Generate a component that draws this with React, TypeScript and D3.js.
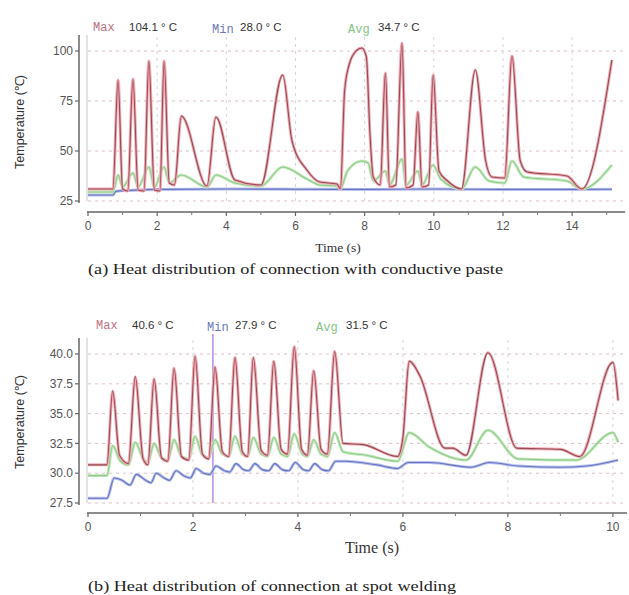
import React from 'react';
import * as d3 from 'd3';

type Pt = [number, number];

// (a) conductive paste — [time s, temperature °C]
const pasteMax: Pt[] = [
  [0, 31], [0.72, 31], [0.87, 85.5], [1.0, 31], [1.15, 30], [1.3, 86], [1.45, 30.5], [1.62, 30],
  [1.76, 95], [1.92, 30.5], [2.08, 30], [2.2, 95], [2.35, 34], [2.5, 33], [2.7, 67.5], [3.44, 32.5],
  [3.7, 67], [4.25, 35.5], [5.0, 33], [5.63, 88], [5.9, 55], [6.33, 40.5], [6.7, 34.5], [7.2, 33.5],
  [7.3, 31], [7.42, 80], [7.55, 93], [7.75, 100], [7.92, 101.5], [8.05, 97], [8.15, 60], [8.25, 37],
  [8.45, 33], [8.6, 89], [8.72, 32], [8.9, 33], [9.08, 104], [9.2, 31.5], [9.4, 33], [9.54, 69.5],
  [9.66, 32], [9.85, 33], [9.98, 88], [10.15, 40], [10.4, 35], [10.8, 31], [11.2, 90.5], [11.5, 45],
  [11.68, 37], [12.05, 36.5], [12.26, 97.5], [12.5, 45], [12.7, 39.5], [13.85, 37.5], [14.28, 31],
  [15.15, 95.5]
];
const pasteMin: Pt[] = [
  [0, 28], [0.72, 28], [0.8, 29.8], [1.2, 30.3], [2, 30.8], [4, 31], [6, 30.9], [8, 30.8],
  [10, 31], [12, 30.8], [14, 30.8], [15.15, 30.9]
];
const pasteAvg: Pt[] = [
  [0, 29.5], [0.72, 29.5], [0.87, 38], [1.0, 32], [1.3, 39], [1.45, 32], [1.76, 42], [1.92, 32],
  [2.2, 42], [2.35, 34], [2.7, 38], [3.44, 32], [3.7, 38], [4.25, 34], [5.0, 32.5], [5.63, 42],
  [6.33, 36], [6.7, 33], [7.2, 32.5], [7.3, 31], [7.5, 40], [7.92, 45], [8.1, 44], [8.25, 35],
  [8.6, 40], [8.72, 33], [9.08, 46], [9.2, 33], [9.54, 40], [9.66, 33], [9.98, 43], [10.2, 36],
  [10.8, 31], [11.2, 42], [11.6, 35], [12.05, 34], [12.26, 45], [12.6, 37], [13.85, 35],
  [14.28, 31], [15.15, 43]
];

// (b) spot welding
const weldMax: Pt[] = [
  [0, 30.7], [0.36, 30.7], [0.47, 36.9], [0.6, 31.5], [0.77, 30.8], [0.9, 38.1], [1.05, 31.2],
  [1.14, 30.7], [1.26, 37.9], [1.4, 31.3], [1.52, 31.0], [1.64, 38.8], [1.78, 31.4], [1.92, 31.1],
  [2.04, 39.8], [2.18, 31.6], [2.3, 31.2], [2.42, 38.9], [2.56, 31.8], [2.68, 31.4], [2.8, 39.7],
  [2.94, 31.8], [3.04, 31.4], [3.15, 39.7], [3.3, 31.9], [3.42, 31.5], [3.54, 39.4], [3.68, 32],
  [3.8, 31.6], [3.93, 40.6], [4.07, 32], [4.18, 31.5], [4.3, 38.6], [4.44, 32], [4.56, 31.6],
  [4.7, 40.2], [4.86, 32.5], [5.24, 32.4], [5.9, 31.4], [6.0, 33], [6.12, 39.4], [6.32, 38.2],
  [6.8, 32.1], [6.95, 32.1], [7.2, 31.5], [7.62, 40.1], [8.17, 32.1], [9.0, 32], [9.37, 31.4],
  [10.0, 39.3], [10.1, 36.1]
];
const weldMin: Pt[] = [
  [0, 27.9], [0.36, 27.9], [0.5, 29.6], [0.65, 29.4], [0.8, 29.0], [0.92, 29.9], [1.1, 29.4],
  [1.2, 29.2], [1.3, 30.0], [1.45, 29.6], [1.55, 29.4], [1.68, 30.2], [1.82, 29.8], [1.95, 29.6],
  [2.06, 30.4], [2.2, 30.0], [2.32, 29.9], [2.44, 30.6], [2.6, 30.2], [2.7, 30.1], [2.82, 30.8],
  [2.96, 30.3], [3.06, 30.2], [3.18, 30.8], [3.32, 30.3], [3.44, 30.2], [3.56, 30.8], [3.7, 30.3],
  [3.82, 30.2], [3.95, 30.9], [4.1, 30.3], [4.2, 30.2], [4.32, 30.8], [4.46, 30.3], [4.58, 30.2],
  [4.72, 31.0], [4.9, 31.0], [5.5, 30.7], [5.9, 30.4], [6.1, 30.9], [6.5, 30.9], [7.3, 30.5],
  [7.65, 30.9], [8.2, 30.6], [9.0, 30.5], [9.5, 30.6], [10.1, 31.1]
];
const weldAvg: Pt[] = [
  [0, 29.8], [0.36, 29.8], [0.47, 32.3], [0.62, 31.0], [0.77, 30.7], [0.9, 32.6], [1.05, 31.2],
  [1.14, 30.9], [1.26, 32.5], [1.4, 31.3], [1.52, 31.1], [1.64, 32.8], [1.78, 31.4], [1.92, 31.2],
  [2.04, 33.1], [2.18, 31.5], [2.3, 31.3], [2.42, 32.8], [2.56, 31.6], [2.68, 31.4], [2.8, 33.1],
  [2.94, 31.6], [3.04, 31.4], [3.15, 33.0], [3.3, 31.6], [3.42, 31.4], [3.54, 33.0], [3.68, 31.6],
  [3.8, 31.4], [3.93, 33.3], [4.07, 31.7], [4.18, 31.4], [4.3, 32.8], [4.44, 31.6], [4.56, 31.4],
  [4.7, 33.4], [4.86, 31.8], [5.3, 31.5], [5.9, 31.0], [6.12, 33.4], [6.5, 32.2], [7.2, 31.1],
  [7.62, 33.6], [8.2, 31.2], [9.3, 31.1], [10.0, 33.4], [10.1, 32.6]
];

const pasteYTicks = [25, 50, 75, 100];
const weldYTicks = [27.5, 30, 32.5, 35, 37.5, 40];
const pasteHeader = ['104.1 ° C', '28.0 ° C', '34.7 ° C'];
const weldHeader = ['40.6 ° C', '27.9 ° C', '31.5 ° C'];

const sans = '"Liberation Sans", Arial, sans-serif';
const serif = '"Liberation Serif", "Times New Roman", serif';
const mono = '"Liberation Mono", "Courier New", monospace';

const MAXC = { halo: '#f3a9b3', core: '#8e4c55' };
const MINC = { halo: '#b7bfea', core: '#6574c4' };
const AVGC = { halo: '#c4eabd', core: '#8fcb8c' };

type PanelProps = {
  top: number; // y of header baseline
  xMax: number; xEnd: number;
  yDomain: [number, number]; yRange: [number, number];
  yTicks: number[]; yFmt: (v: number) => string;
  axisTop: number; xAxisY: number;
  series: { data: Pt[]; c: { halo: string; core: string } }[];
  header: string[]; headerX: number[];
  yLabelY: number; timeY: number; timeX: number; timeSize: number;
  caption: string; captionY: number; captionW: number;
  cursor?: number;
};

const Panel = (p: PanelProps) => {
  const x = d3.scaleLinear().domain([0, p.xMax]).range([88, p.xEnd]);
  const y = d3.scaleLinear().domain(p.yDomain).range(p.yRange);
  const lineFn = d3.line<Pt>().curve(d3.curveMonotoneX).x(d => x(d[0])).y(d => y(d[1]));
  const majors = d3.range(0, p.xMax + 0.01, 2);
  const minors = d3.range(1, p.xMax + 0.01, 2);
  const bottom = p.yRange[0];
  const yAxisX = 79;
  const [labMax, labMin, labAvg] = ['Max', 'Min', 'Avg'];
  return (
    <g>
      {/* header */}
      <text x={p.headerX[0]} y={p.top} fontFamily={mono} fontSize={12} fill="#c07080">{labMax}</text>
      <text x={p.headerX[0] + 36} y={p.top} fontFamily={sans} fontSize={11.5} fill="#333">{p.header[0]}</text>
      <text x={p.headerX[1]} y={p.top + 2} fontFamily={mono} fontSize={12} fill="#6b78c0">{labMin}</text>
      <text x={p.headerX[1] + 28} y={p.top} fontFamily={sans} fontSize={11.5} fill="#333">{p.header[1]}</text>
      <text x={p.headerX[2]} y={p.top + 2} fontFamily={mono} fontSize={12} fill="#86c486">{labAvg}</text>
      <text x={p.headerX[2] + 30} y={p.top} fontFamily={sans} fontSize={11.5} fill="#333">{p.header[2]}</text>

      {/* grid */}
      {p.yTicks.map(v => (
        <line key={'h' + v} x1={88} x2={p.xEnd} y1={y(v)} y2={y(v)} stroke="#dcc0c4" strokeWidth={1} strokeDasharray="3,4" />
      ))}
      {majors.filter(t => t > 0).map(t => (
        <line key={'v' + t} x1={x(t)} x2={x(t)} y1={p.axisTop + 2} y2={bottom} stroke="#d6d6d6" strokeWidth={1} strokeDasharray="3,4" />
      ))}
      <line x1={87} x2={87} y1={p.axisTop} y2={bottom} stroke="#c8c8c8" />

      {/* y axis */}
      <line x1={yAxisX} x2={yAxisX} y1={p.axisTop} y2={bottom + 2} stroke="#666" strokeWidth={1.5} />
      {p.yTicks.map(v => (
        <g key={'yt' + v}>
          <line x1={yAxisX - 4} x2={yAxisX} y1={y(v)} y2={y(v)} stroke="#666" strokeWidth={1.2} />
          <text x={yAxisX - 6} y={y(v)} dy="0.35em" textAnchor="end" fontFamily={sans} fontSize={12} fill="#555">{p.yFmt(v)}</text>
        </g>
      ))}
      <text transform={`translate(24,${p.yLabelY}) rotate(-90)`} textAnchor="middle" fontFamily={sans} fontSize={12.5} fill="#333">Temperature (℃)</text>

      {/* x axis */}
      <line x1={87} x2={p.xEnd + 1} y1={p.xAxisY} y2={p.xAxisY} stroke="#666" strokeWidth={1.5} />
      {majors.map(t => (
        <g key={'xt' + t}>
          <line x1={x(t)} x2={x(t)} y1={p.xAxisY} y2={p.xAxisY + 4} stroke="#666" strokeWidth={1.2} />
          <text x={x(t)} y={p.xAxisY + 18} textAnchor="middle" fontFamily={sans} fontSize={12} fill="#555">{t}</text>
        </g>
      ))}
      {minors.map(t => (
        <line key={'mt' + t} x1={x(t)} x2={x(t)} y1={p.xAxisY} y2={p.xAxisY + 3} stroke="#777" />
      ))}
      <text x={p.timeX} y={p.timeY} textAnchor="middle" fontFamily={serif} fontSize={p.timeSize} fill="#333">Time (s)</text>

      {/* cursor */}
      {p.cursor !== undefined && (
        <line x1={x(p.cursor)} x2={x(p.cursor)} y1={p.axisTop - 4} y2={bottom} stroke="#a070d8" strokeWidth={1.2} />
      )}

      {/* series */}
      {p.series.map((s, i) => (
        <g key={'s' + i} fill="none">
          <path d={lineFn(s.data) || ''} stroke={s.c.halo} strokeWidth={3} strokeLinejoin="round" />
          <path d={lineFn(s.data) || ''} stroke={s.c.core} strokeWidth={1.1} strokeLinejoin="round" />
        </g>
      ))}

      <text x={88} y={p.captionY} fontFamily={serif} fontSize={15} fill="#222"
        textLength={p.captionW} lengthAdjust="spacingAndGlyphs">{p.caption}</text>
    </g>
  );
};

export default function App() {
  return (
    <svg width={629} height={595} style={{ position: 'absolute', left: 0, top: 0, background: '#fff' }}>
      <Panel
        top={31} xMax={15.5} xEnd={624}
        yDomain={[25, 100]} yRange={[201, 51]}
        yTicks={pasteYTicks} yFmt={v => String(v)}
        axisTop={35} xAxisY={212}
        series={[{ data: pasteMin, c: MINC }, { data: pasteAvg, c: AVGC }, { data: pasteMax, c: MAXC }]}
        header={pasteHeader} headerX={[93, 212, 348]}
        yLabelY={122} timeX={338} timeY={252} timeSize={13.5}
        caption="(a) Heat distribution of connection with conductive paste" captionY={274} captionW={415}
      />
      <Panel
        top={329} xMax={10.25} xEnd={626}
        yDomain={[27.5, 40]} yRange={[503, 354]}
        yTicks={weldYTicks} yFmt={v => v.toFixed(1)}
        axisTop={338} xAxisY={513}
        series={[{ data: weldMin, c: MINC }, { data: weldAvg, c: AVGC }, { data: weldMax, c: MAXC }]}
        header={weldHeader} headerX={[96, 207, 316]}
        yLabelY={422} timeX={372} timeY={553} timeSize={16}
        caption="(b) Heat distribution of connection at spot welding" captionY={591} captionW={368}
        cursor={2.38}
      />
    </svg>
  );
}
